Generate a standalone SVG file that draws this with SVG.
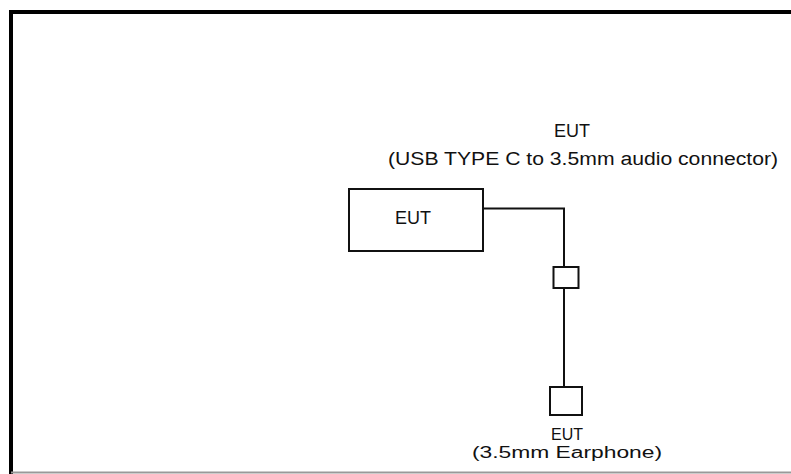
<svg xmlns="http://www.w3.org/2000/svg" width="791" height="474" viewBox="0 0 791 474">
<style>
.t{font-family:"Liberation Sans",Arial,sans-serif;font-size:18px;fill:#111}
.s{font-family:"Liberation Sans",Arial,sans-serif;font-size:16px;fill:#111}
.b{fill:#fff;stroke:#111;stroke-width:2}
.w{fill:none;stroke:#111;stroke-width:2}
</style>
<rect width="791" height="474" fill="#fff"/>
<g id="frame">
<path d="M11 474 V12 H795" fill="none" stroke="#000" stroke-width="4"/>
<line x1="11" y1="472.5" x2="791" y2="472.5" stroke="#999" stroke-width="2"/>
</g>
<g id="title">
<text class="t" x="572" y="137" text-anchor="middle">EUT</text>
<text class="t" x="388" y="165" textLength="390" lengthAdjust="spacingAndGlyphs">(USB TYPE C to 3.5mm audio connector)</text>
</g>
<g id="connectors">
<path class="w" d="M483 208.5 H564 V267"/>
<path class="w" d="M564 288 V387"/>
</g>
<g id="eut">
<rect class="b" x="349" y="189" width="134" height="62"/>
<text class="t" x="413" y="224" text-anchor="middle">EUT</text>
</g>
<g id="adapter">
<rect class="b" x="553.5" y="267" width="25" height="21"/>
</g>
<g id="earphone">
<rect class="b" x="550" y="387" width="32" height="28"/>
<text class="s" x="567" y="440" text-anchor="middle">EUT</text>
<text class="s" x="472" y="458" textLength="190" lengthAdjust="spacingAndGlyphs">(3.5mm Earphone)</text>
</g>
</svg>
